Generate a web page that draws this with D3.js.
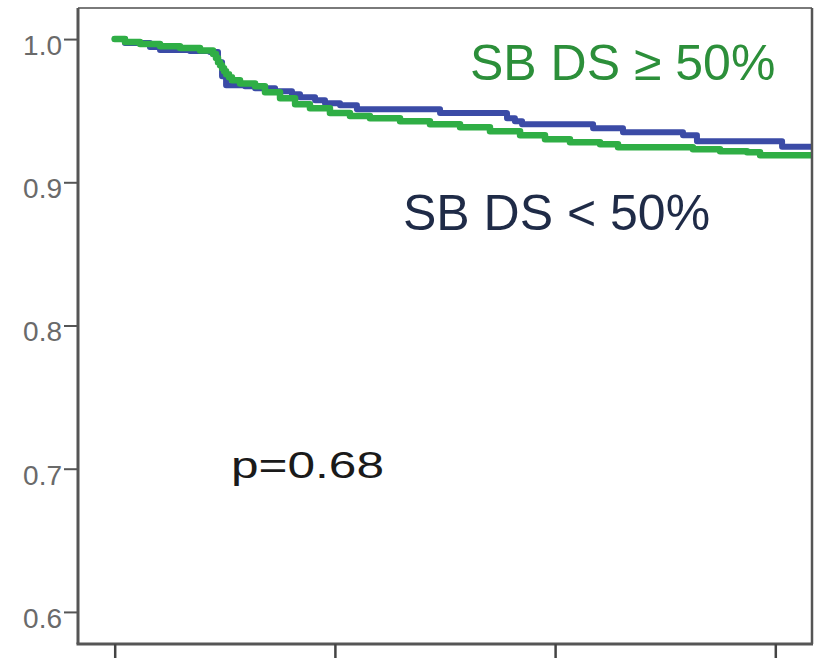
<!DOCTYPE html>
<html>
<head>
<meta charset="utf-8">
<script src="https://cdn.jsdelivr.net/npm/d3@7"></script>
<style>
  html, body { margin: 0; padding: 0; background: #ffffff; }
  svg { display: block; }
  text { font-family: "Liberation Sans", Arial, sans-serif; }
</style>
</head>
<body>
<svg id="chart" width="817" height="665"></svg>
<script>
// Kaplan-Meier survival, two stenosis groups (time in months)
const lowTimes  = [0, 0.56, 1.92, 2.47, 4.10, 5.19, 5.63, 5.85, 6.07, 7.10, 7.65, 8.74, 9.66, 10.10, 10.92, 11.46, 12.28, 13.20, 17.73, 21.38, 21.81, 22.20, 26.07, 27.70, 30.97, 31.73, 36.37, 38];
const lowSurv   = [1.000, 0.9972, 0.9944, 0.9923, 0.9916, 0.9909, 0.9839, 0.9741, 0.9678, 0.9671, 0.9657, 0.9636, 0.9615, 0.9594, 0.9573, 0.9552, 0.9538, 0.9510, 0.9483, 0.9448, 0.9427, 0.9406, 0.9378, 0.9350, 0.9329, 0.9287, 0.9248, 0.9248];

const highTimes = [0, 0.56, 1.38, 2.47, 3.56, 4.65, 5.36, 5.52, 5.63, 5.74, 5.85, 5.96, 6.07, 6.23, 6.39, 6.83, 7.65, 8.19, 9.01, 9.83, 10.64, 11.73, 12.82, 13.91, 15.55, 17.18, 18.82, 20.45, 22.09, 23.45, 24.81, 26.45, 27.43, 31.51, 32.99, 34.46, 35.17, 38];
const highSurv  = [1.000, 0.9980, 0.9965, 0.9950, 0.9937, 0.9920, 0.9895, 0.9867, 0.9839, 0.9818, 0.9797, 0.9776, 0.9755, 0.9734, 0.9713, 0.9690, 0.9671, 0.9629, 0.9587, 0.9545, 0.9517, 0.9483, 0.9462, 0.9448, 0.9427, 0.9406, 0.9385, 0.9357, 0.9329, 0.9301, 0.9280, 0.9266, 0.9245, 0.9231, 0.9217, 0.9210, 0.9189, 0.9189];

const yTicks = [0.6, 0.7, 0.8, 0.9, 1.0];
const xTicks = [0, 12, 24, 36];
const groupLabels = ["SB DS < 50%", "SB DS \u2265 50%"];
const pValueLabel = "p=0.68";

const svg = d3.select("#chart");
const frame = { left: 78, right: 812, top: 8, bottom: 644 };

const x = d3.scaleLinear().domain([-2, 38]).range([frame.left, frame.right]);
const y = d3.scaleLinear().domain([0.5776, 1.0217]).range([frame.bottom, frame.top]);

// clip curves to the plot frame
svg.append("clipPath").attr("id", "plotClip")
  .append("rect").attr("x", frame.left).attr("y", frame.top)
  .attr("width", frame.right - frame.left).attr("height", frame.bottom - frame.top);

const line = d3.line()
  .x(d => x(d[0]))
  .y(d => y(d[1]))
  .curve(d3.curveStepAfter);

const lowData  = lowTimes.map((t, i) => [t, lowSurv[i]]);
const highData = highTimes.map((t, i) => [t, highSurv[i]]);

const curves = svg.append("g").attr("clip-path", "url(#plotClip)");
curves.append("path").datum(lowData)
  .attr("d", line).attr("fill", "none")
  .attr("stroke", "#3b4ba6").attr("stroke-width", 6)
  .attr("stroke-linejoin", "round").attr("stroke-linecap", "round");
curves.append("path").datum(highData)
  .attr("d", line).attr("fill", "none")
  .attr("stroke", "#2fae45").attr("stroke-width", 6.5)
  .attr("stroke-linejoin", "round").attr("stroke-linecap", "round");

// frame: top and right edges
svg.append("line").attr("x1", frame.left).attr("x2", frame.right)
  .attr("y1", frame.top).attr("y2", frame.top)
  .attr("stroke", "#7a7a7a").attr("stroke-width", 2);
svg.append("line").attr("x1", frame.right).attr("x2", frame.right)
  .attr("y1", frame.top).attr("y2", frame.bottom)
  .attr("stroke", "#555").attr("stroke-width", 2.5);

// y axis
const yAxis = svg.append("g").attr("transform", `translate(${frame.left},0)`)
  .call(d3.axisLeft(y).tickValues(yTicks).tickSize(14).tickPadding(2).tickFormat(d3.format(".1f")));
yAxis.select(".domain").attr("stroke", "#555").attr("stroke-width", 3)
  .attr("d", `M0,${frame.top}V${frame.bottom}`);
yAxis.selectAll(".tick line").attr("stroke", "#555").attr("stroke-width", 2);
yAxis.selectAll(".tick text")
  .attr("font-size", 28).attr("fill", "#6a6a6a")
  .attr("dy", "0.55em")
  .style("font-family", "'Liberation Sans', Arial, sans-serif");

// x axis (ticks only)
const xAxis = svg.append("g").attr("transform", `translate(0,${frame.bottom})`)
  .call(d3.axisBottom(x).tickValues(xTicks).tickSize(14).tickFormat(""));
xAxis.select(".domain").attr("stroke", "#555").attr("stroke-width", 3)
  .attr("d", `M${frame.left - 1.5},0H${frame.right + 1}`);
xAxis.selectAll(".tick line").attr("stroke", "#444").attr("stroke-width", 2.5);

// group labels
svg.append("text").attr("x", 470).attr("y", 80)
  .attr("font-size", 50).attr("fill", "#2c8f3a")
  .text(groupLabels[1]);
svg.append("text").attr("x", 403).attr("y", 230)
  .attr("font-size", 50).attr("fill", "#1f2b47")
  .text(groupLabels[0]);

// log-rank p value
svg.append("text").attr("x", 231).attr("y", 478)
  .attr("font-size", 37).attr("fill", "#1a1a1a")
  .attr("textLength", 153).attr("lengthAdjust", "spacingAndGlyphs")
  .text(pValueLabel);
</script>
</body>
</html>
